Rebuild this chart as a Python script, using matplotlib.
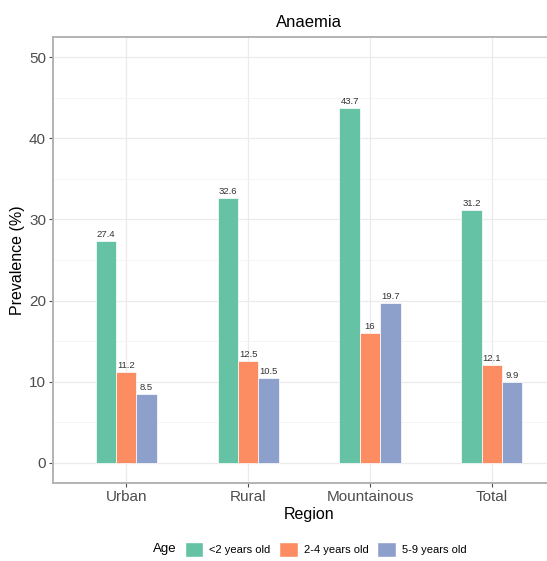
import numpy as np
import matplotlib
matplotlib.use("Agg")
import matplotlib.pyplot as plt
from matplotlib.patches import Patch

# ...Data
regions = ["Urban", "Rural", "Mountainous", "Total"]
age_groups = ["<2 years old", "2-4 years old", "5-9 years old"]
under2 = [27.4, 32.6, 43.7, 31.2]
age2to4 = [11.2, 12.5, 16.0, 12.1]
age5to9 = [8.5, 10.5, 19.7, 9.9]
bar_labels = [
    ["27.4", "32.6", "43.7", "31.2"],
    ["11.2", "12.5", "16", "12.1"],
    ["8.5", "10.5", "19.7", "9.9"],
]
colors = ["#66C2A5", "#FC8D62", "#8DA0CB"]

plt.rcParams["font.family"] = "Liberation Sans"

fig = plt.figure(figsize=(5.47, 5.61), dpi=100)
# ...panel runs past the right edge, as in the (cropped) reference
ax = fig.add_axes([0.097, 0.139, 0.936, 0.795])

x = np.arange(1, len(regions) + 1)
width = 0.167
series = [under2, age2to4, age5to9]
for i, vals in enumerate(series):
    pos = x + (i - 1) * width
    ax.bar(pos, vals, width=width, color=colors[i], edgecolor="white",
           linewidth=0.5, zorder=3)
    for px, v, lab in zip(pos, vals, bar_labels[i]):
        ax.text(px, v + 0.25, lab, ha="center", va="bottom", fontsize=6.8,
                color="#333333", zorder=4)

ax.set_xlim(0.4, 4.6)
ax.set_ylim(-2.5, 52.5)
ax.set_xticks(x)
ax.set_xticklabels(regions)
ax.set_yticks(np.arange(0, 51, 10))
ax.set_yticks(np.arange(5, 50, 10), minor=True)

ax.grid(which="major", color="#EBEBEB", linewidth=0.9, zorder=0)
ax.grid(which="minor", axis="y", color="#F3F3F3", linewidth=0.6, zorder=0)
ax.set_axisbelow(True)
ax.tick_params(axis="both", which="major", colors="#4D4D4D", labelsize=11,
               length=3, width=0.8, pad=2)
ax.tick_params(axis="y", which="minor", length=0)
for sp in ax.spines.values():
    sp.set_color("#B3B3B3")
    sp.set_linewidth(1.4)

ax.set_title("Anaemia", fontsize=12, pad=7)
ax.set_xlabel("Region", fontsize=11.5, labelpad=2)
ax.set_ylabel("Prevalence (%)", fontsize=11.5, labelpad=3)

# ...Legend at the bottom with title on the left
handles = [Patch(facecolor=c, edgecolor="white") for c in colors]
fig.legend(handles, age_groups, loc="center", bbox_to_anchor=(0.595, 0.021),
           ncol=3, frameon=False, fontsize=8, handlelength=1.7,
           handleheight=1.7, handletextpad=0.5, columnspacing=0.8)
fig.text(0.28, 0.021, "Age", fontsize=9.5, va="center", ha="left")

fig.savefig("out.png", dpi=100)
